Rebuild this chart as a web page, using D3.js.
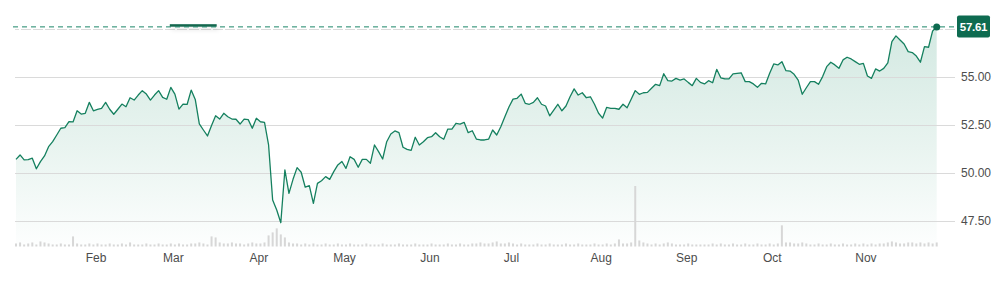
<!DOCTYPE html>
<html><head><meta charset="utf-8">
<script src="https://cdn.jsdelivr.net/npm/d3@7"></script>
<style>
html,body{margin:0;padding:0;background:#fff;}
svg{display:block;font-family:"Liberation Sans",Arial,sans-serif;}
</style>
</head><body>
<svg id="chart" width="1007" height="282"></svg>
<script>
// ---------- DATA ----------
const startDate = "2025-01-02";
const endDate = "2025-11-26";
const holidays = ["2025-01-09","2025-01-20","2025-02-17","2025-04-18","2025-05-26","2025-06-19","2025-07-04","2025-09-01"];

const prices = [
 50.71,50.94,50.68,50.70,50.77,50.22,50.59,50.89,51.37,51.63,
 51.98,52.33,52.36,52.67,52.66,53.24,53.07,53.11,53.68,53.24,
 53.31,53.37,53.68,53.32,53.06,53.32,53.59,53.45,53.92,53.80,
 54.06,54.29,54.11,53.80,54.06,54.29,53.94,53.84,54.46,54.11,
 53.33,53.59,53.57,54.32,53.83,52.56,52.24,51.93,52.47,52.98,
 52.81,53.11,52.93,52.81,52.80,52.55,52.81,52.78,52.33,52.85,
 52.67,52.64,51.46,48.59,48.07,47.41,50.16,48.94,49.67,50.28,
 50.04,49.26,49.34,48.42,49.46,49.60,49.81,49.67,50.07,50.42,
 50.60,50.24,50.85,50.71,50.30,50.71,50.71,50.51,51.46,51.11,
 50.73,51.63,52.03,52.19,52.10,51.34,51.23,51.18,51.86,51.46,
 51.63,51.84,51.89,52.10,51.89,51.76,52.29,52.29,52.59,52.55,
 52.64,52.10,52.20,51.77,51.72,51.72,51.76,52.24,51.98,52.41,
 52.93,53.44,53.85,53.89,54.11,53.63,53.58,53.68,53.92,53.58,
 53.49,52.98,53.28,53.58,53.24,53.49,53.97,54.38,54.06,54.18,
 53.92,53.97,53.58,53.11,52.86,53.42,53.37,53.37,53.32,53.58,
 53.40,53.84,54.29,54.10,54.18,54.20,54.41,54.62,54.55,55.17,
 54.81,54.79,54.93,54.84,54.90,54.72,54.55,54.93,54.72,54.64,
 54.81,54.70,55.40,54.96,54.90,54.90,55.16,55.19,55.22,54.76,
 54.76,54.64,54.46,54.67,54.64,55.19,55.68,55.63,55.80,55.33,
 55.31,55.14,54.84,54.10,54.44,54.76,54.76,54.62,55.02,55.54,
 55.77,55.63,55.45,55.89,56.03,55.94,55.80,55.66,55.71,55.05,
 54.93,55.42,55.31,55.45,55.74,56.84,57.14,56.93,56.72,56.32,
 56.27,56.09,55.77,56.58,56.55,57.40,57.61
];

const volumes = [
 3,4,2,3,4,2,5,4,3,2,
 2,3,2,2,10,3,2,2,3,2,
 3,2,2,3,2,2,3,2,4,2,
 2,2,3,2,2,3,2,2,3,2,
 3,2,2,3,3,4,3,2,10,9,
 4,3,3,4,3,3,2,3,4,3,
 3,4,11,14,18,12,9,4,3,3,
 2,3,2,3,2,2,3,2,2,3,
 2,2,3,2,2,2,3,2,2,2,
 3,2,2,2,3,2,2,2,3,2,
 2,2,3,2,2,2,3,2,2,3,
 2,2,3,3,4,3,3,4,5,3,
 3,4,3,2,3,2,2,2,3,2,
 2,3,2,2,2,3,2,2,3,2,
 2,2,3,2,2,3,2,3,7,3,
 3,4,60,6,4,3,2,3,2,3,
 4,3,2,2,2,3,2,2,2,2,
 2,3,2,3,2,2,3,2,2,3,
 2,2,3,2,2,3,2,3,21,4,
 4,3,3,4,3,2,2,3,2,2,
 3,2,2,3,2,2,3,2,3,2,
 3,2,3,3,4,5,4,3,3,4,
 4,3,4,3,4,3,4
];

const monthLabels = ["Feb","Mar","Apr","May","Jun","Jul","Aug","Sep","Oct","Nov"];
const yTicks = [47.5, 50, 52.5, 55, 57.5];

// ---------- BUILD ----------
const parse = d3.utcParse("%Y-%m-%d"), fmt = d3.utcFormat("%Y-%m-%d");
const allDays = d3.utcDay.range(parse(startDate), d3.utcDay.offset(parse(endDate), 1))
  .filter(d => d.getUTCDay() % 6 !== 0 && !holidays.includes(fmt(d)));
const n = Math.min(allDays.length, prices.length);
const data = d3.range(n).map(i => ({i, date: allDays[i], price: prices[i], vol: volumes[i] || 0}));

const svg = d3.select("#chart");
const x = d3.scaleLinear().domain([0, n - 1]).range([16, 936.7]);
const y = d3.scaleLinear().domain([47.5, 57.5]).range([221, 29]);
const baseY = 246.5;
const vy = d3.scaleLinear().domain([0, d3.max(volumes)]).range([baseY, 186]);

// gradient
const defs = svg.append("defs");
const grad = defs.append("linearGradient").attr("id", "areaGrad")
  .attr("gradientUnits", "userSpaceOnUse").attr("x1", 0).attr("x2", 0)
  .attr("y1", y(d3.max(prices))).attr("y2", baseY);
grad.append("stop").attr("offset", "0%").attr("stop-color", "#d3e9e2");
grad.append("stop").attr("offset", "55%").attr("stop-color", "#e9f4f0");
grad.append("stop").attr("offset", "100%").attr("stop-color", "#fdfefe");
const sh = defs.append("filter").attr("id", "shadow").attr("x", "-20%").attr("y", "-100%").attr("width", "140%").attr("height", "600%");
sh.append("feDropShadow").attr("dx", 2).attr("dy", 3).attr("stdDeviation", 2).attr("flood-color", "#000").attr("flood-opacity", 0.12);

// area
svg.append("path").datum(data)
  .attr("fill", "url(#areaGrad)")
  .attr("d", d3.area().x(d => x(d.i)).y0(baseY).y1(d => y(d.price)));

// gridlines + y labels
const yAxis = svg.append("g").attr("transform", "translate(955,0)")
  .call(d3.axisRight(y).tickValues(yTicks).tickSize(-940).tickPadding(6).tickFormat(d3.format(".2f")));
yAxis.select(".domain").remove();
yAxis.selectAll(".tick line").attr("stroke", "#dadada").attr("stroke-width", 1)
  .attr("stroke-dasharray", d => d === 57.5 ? "10,2" : null);
yAxis.selectAll(".tick text").attr("fill", "#4d4d4d").attr("font-size", 12)
  .attr("font-family", "'Liberation Sans', Arial, sans-serif")
  .style("display", d => d > 57 ? "none" : null);

// volume bars
svg.append("g").selectAll("rect").data(data).join("rect")
  .attr("x", d => x(d.i) - 1).attr("width", 2)
  .attr("y", d => vy(d.vol)).attr("height", d => baseY - vy(d.vol))
  .attr("fill", "#d7d7d7");

// month labels
const monthStarts = [];
for (let i = 1; i < n; i++) {
  if (data[i].date.getUTCMonth() !== data[i - 1].date.getUTCMonth()) monthStarts.push(i);
}
const xAxis = svg.append("g").attr("transform", "translate(-2,248)")
  .call(d3.axisBottom(x).tickValues(monthStarts).tickSize(0).tickPadding(5)
    .tickFormat((d, k) => monthLabels[k]));
xAxis.select(".domain").remove();
xAxis.selectAll(".tick text").attr("fill", "#4d4d4d").attr("font-size", 12)
  .attr("font-family", "'Liberation Sans', Arial, sans-serif");

// small dark marker top-left
svg.append("rect").attr("x", x(38) - 1).attr("y", 24.2).attr("width", x(50) - x(38) - 2).attr("height", 2.5)
  .attr("fill", "#14664e").attr("filter", "url(#shadow)");

// last value dashed line
const last = data[n - 1];
svg.append("line").attr("x1", 13).attr("x2", 955)
  .attr("y1", y(last.price)).attr("y2", y(last.price))
  .attr("stroke", "#1b8667").attr("stroke-width", 1).attr("stroke-dasharray", "5,4");

// price line
svg.append("path").datum(data)
  .attr("fill", "none").attr("stroke", "#15805f").attr("stroke-width", 1.3)
  .attr("stroke-linejoin", "round")
  .attr("d", d3.line().x(d => x(d.i)).y(d => y(d.price)));

// end dot
svg.append("circle").attr("cx", x(last.i)).attr("cy", y(last.price)).attr("r", 3.5).attr("fill", "#0e6b50");

// last value label
svg.append("rect").attr("x", 957).attr("y", y(last.price) - 11.5).attr("width", 33).attr("height", 22)
  .attr("rx", 2).attr("fill", "#0e6b50");
svg.append("text").attr("x", 973.5).attr("y", y(last.price)).attr("dy", "0.36em")
  .attr("text-anchor", "middle").attr("fill", "#fff").attr("font-size", 11.5).attr("font-weight", "bold")
  .attr("letter-spacing", "-0.3")
  .attr("font-family", "'Liberation Sans',Arial,sans-serif")
  .text(d3.format(".2f")(last.price));
</script>
</body></html>
